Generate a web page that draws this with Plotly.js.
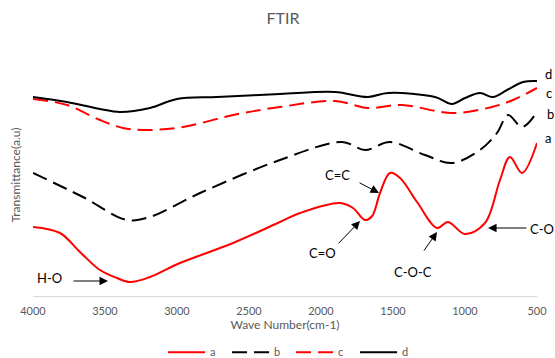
<!DOCTYPE html>
<html>
<head>
<meta charset="utf-8">
<script src="https://cdn.plot.ly/plotly-3.0.1.min.js"></script>
<style>html,body{margin:0;padding:0;background:#fff;}#chart{width:555px;height:358px;}</style>
</head>
<body>
<div id="chart"></div>
<script>
// Wave numbers (cm-1) and transmittance (a.u.)
const waveA = [4000, 3813, 3674, 3535, 3417, 3326, 3188, 2979, 2611, 2285, 2146, 1868, 1778, 1694, 1645, 1590, 1521, 1451, 1333, 1194, 1118, 1000, 861, 757, 688, 604, 500];
const transA = [69, 63, 44, 26, 18, 14, 19, 33, 53, 74, 83, 93, 88, 76, 80, 103, 123, 118, 94, 68, 74, 62, 73, 116, 139, 123, 153];

const waveB = [4000, 3653, 3347, 3188, 2840, 2285, 1854, 1694, 1521, 1278, 1090, 896, 778, 701, 604, 500];
const transB = [123, 99, 76, 79, 103, 136, 154, 146, 154, 141, 133, 146, 163, 181, 169, 184];

const waveC = [4000, 3764, 3535, 3375, 3236, 2958, 2611, 2285, 1903, 1674, 1438, 1090, 813, 667, 500];
const transC = [197, 191, 176, 168, 166, 169, 181, 189, 195, 188, 191, 183, 189, 196, 208];

const waveD = [4000, 3764, 3535, 3396, 3188, 3000, 2722, 2285, 1903, 1674, 1535, 1208, 1090, 1000, 896, 806, 708, 597, 500];
const transD = [199, 194, 187, 184, 188, 197, 199, 202, 204, 199, 203, 199, 192, 198, 203, 199, 206, 214, 215];

const seriesNames = ['a', 'b', 'c', 'd'];
const tickVals = [4000, 3500, 3000, 2500, 2000, 1500, 1000, 500];

// Peak assignments: label, text position, arrow tail, arrow head (wave number, a.u.)
const peakLabels = ['H-O', 'C=C', 'C=O', 'C-O-C', 'C-O'];
const peakTextX = [3882, 1882, 1993, 1361, 465];
const peakTextY = [18, 121, 43, 24, 67];
const arrowTailX = [3729, 1743, 1889, 1292, 563];
const arrowTailY = [15, 114, 51, 44, 68];
const arrowHeadX = [3479, 1597, 1729, 1194, 840];
const arrowHeadY = [15, 103, 75, 64, 68];

// Curve end labels (positions relative to the plot width / a.u.)
const endLabelX = [1.022, 1.026, 1.024, 1.022];
const endLabelY = [158, 182, 203, 222];

const FONT = 'Lato, "Open Sans", sans-serif';
const GRAY = '#595959';
const X0 = 4000, X1 = 500;

function trace(x, y, name, color, dash) {
  return {
    x: x, y: y, name: name, type: 'scatter', mode: 'lines',
    line: {color: color, width: 2, dash: dash, shape: 'spline', smoothing: 1},
    hoverinfo: 'skip'
  };
}

const data = [
  trace(waveA, transA, seriesNames[0], '#ff0000', 'solid'),
  trace(waveB, transB, seriesNames[1], '#000000', '15px,7px'),
  trace(waveC, transC, seriesNames[2], '#ff0000', '15px,7px'),
  trace(waveD, transD, seriesNames[3], '#000000', 'solid')
];

const annotations = [];
for (let i = 0; i < peakLabels.length; i++) {
  annotations.push({
    x: arrowHeadX[i], y: arrowHeadY[i], xref: 'x', yref: 'y',
    ax: arrowTailX[i], ay: arrowTailY[i], axref: 'x', ayref: 'y',
    text: '', showarrow: true, arrowhead: 2, arrowsize: 1.7, arrowwidth: 1, arrowcolor: '#000'
  });
  const inRange = peakTextX[i] >= X1;
  annotations.push({
    x: inRange ? peakTextX[i] : (X0 - peakTextX[i]) / (X0 - X1), y: peakTextY[i],
    xref: inRange ? 'x' : 'paper', yref: 'y', xanchor: 'center', yanchor: 'middle',
    text: peakLabels[i], showarrow: false,
    font: {family: FONT, size: 13, color: '#000'}
  });
}
for (let i = 0; i < seriesNames.length; i++) {
  annotations.push({
    x: endLabelX[i], y: endLabelY[i], xref: 'paper', yref: 'y', xanchor: 'center', yanchor: 'middle',
    text: seriesNames[i], showarrow: false,
    font: {family: FONT, size: 13, color: '#000'}
  });
}

const layout = {
  width: 555, height: 358,
  margin: {l: 33, r: 18, t: 54, b: 62, autoexpand: false},
  paper_bgcolor: '#fff', plot_bgcolor: '#fff',
  font: {family: FONT, color: GRAY},
  title: {text: 'FTIR', font: {family: FONT, size: 16, color: GRAY}, x: 0.51, xanchor: 'center', y: 0.95, yanchor: 'middle'},
  showlegend: true,
  legend: {orientation: 'h', x: 0.512, xanchor: 'center', y: -0.232, yanchor: 'middle',
           itemwidth: 37, entrywidth: 12, entrywidthmode: 'pixels',
           font: {family: FONT, size: 11, color: GRAY}, traceorder: 'normal'},
  xaxis: {
    range: [X0, X1], tickvals: tickVals, ticktext: tickVals.map(String),
    showgrid: false, zeroline: false, showline: true, linecolor: '#d9d9d9', linewidth: 1,
    ticks: '', ticklabelstandoff: 5,
    tickfont: {family: FONT, size: 11, color: GRAY},
    title: {text: 'Wave Number(cm-1)', font: {family: FONT, size: 12, color: GRAY}, standoff: 0},
    fixedrange: true
  },
  yaxis: {
    range: [0, 242], showgrid: false, zeroline: false, showline: false,
    showticklabels: false, ticks: '',
    title: {text: 'Transmittance(a.u)', font: {family: FONT, size: 12, color: GRAY}, standoff: 8},
    fixedrange: true
  },
  annotations: annotations
};

Plotly.newPlot('chart', data, layout, {displayModeBar: false, staticPlot: true});
</script>
</body>
</html>
